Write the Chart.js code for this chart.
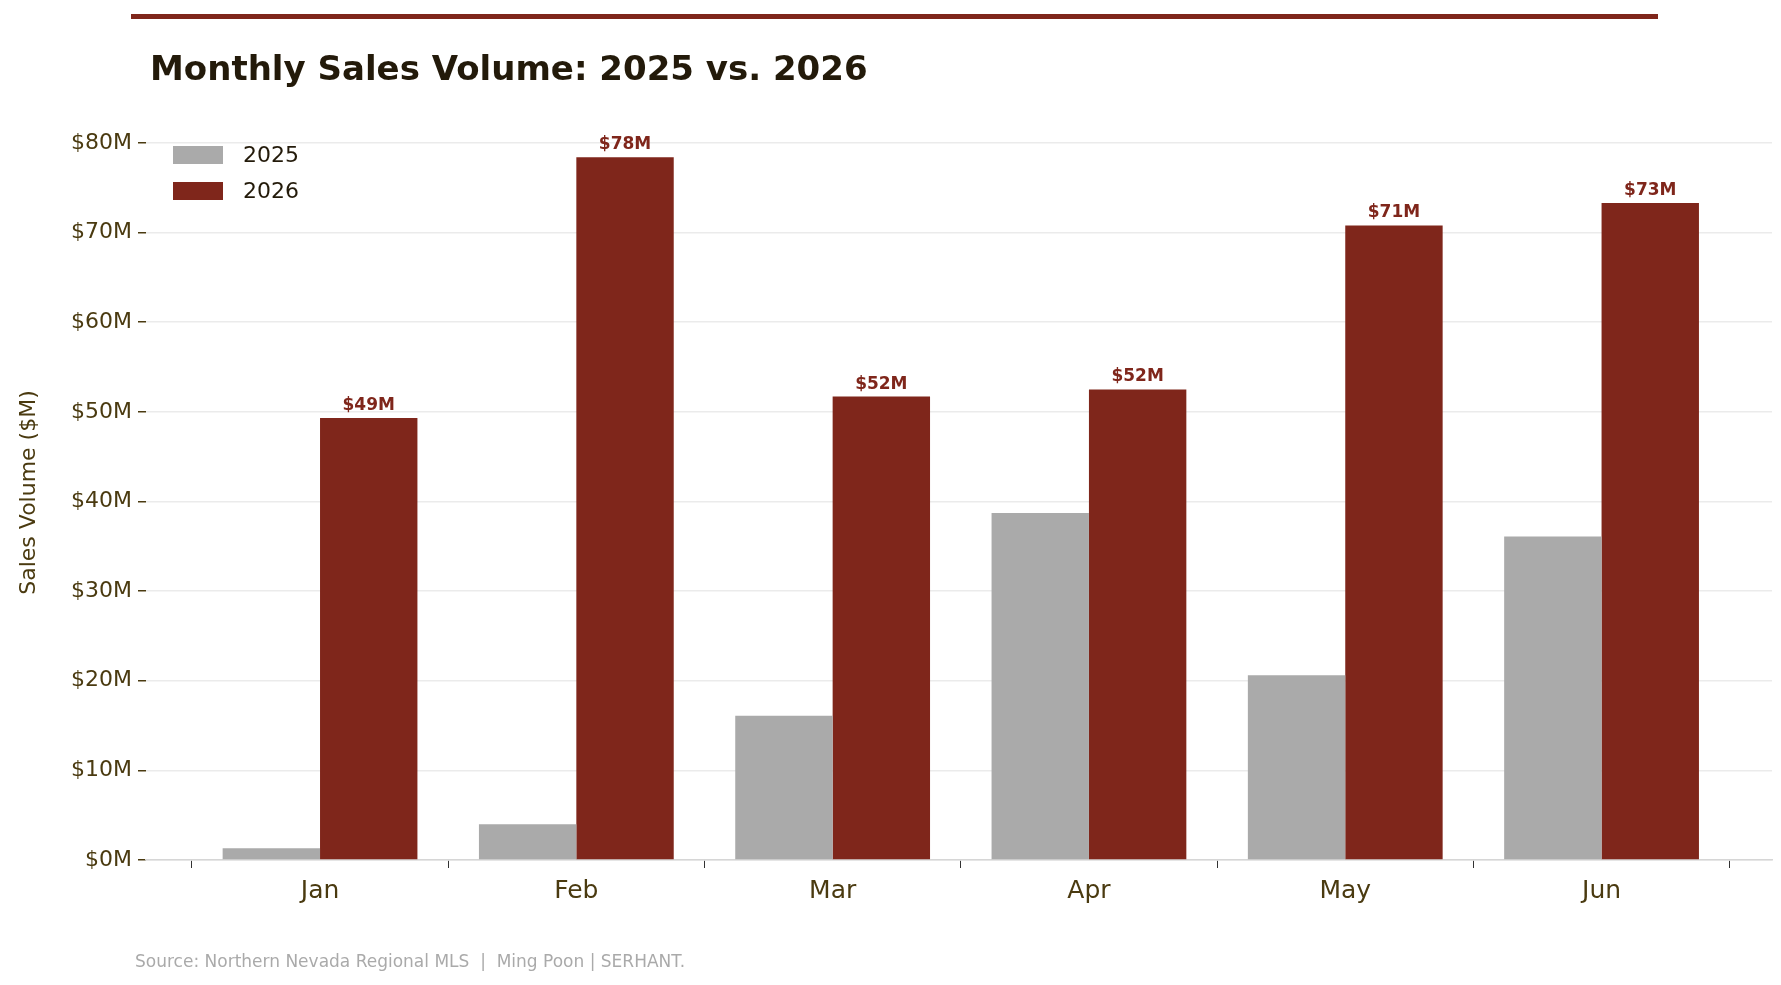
<!DOCTYPE html>
<html><head><meta charset="utf-8">
<script src="https://cdn.jsdelivr.net/npm/chart.js@4/dist/chart.umd.min.js"></script>
<style>html,body{margin:0;padding:0;background:#fff}#wrap{width:1781px;height:985px;position:relative}</style>
</head><body><div id="wrap"><canvas id="c" width="1781" height="985" style="width:1781px;height:985px"></canvas></div>
<script>
const months = ['Jan','Feb','Mar','Apr','May','Jun'];
const sales2025 = [1.3, 4.0, 16.1, 38.7, 20.6, 36.1];
const sales2026 = [49.3, 78.4, 51.7, 52.5, 70.8, 73.3];
const labels2026 = ['$49M','$78M','$52M','$52M','$71M','$73M'];
const yTicks = [0,10,20,30,40,50,60,70,80];

const GRAY='#aaaaaa', RED='#7f261b', TXT='#4a3a10', FONT='DejaVu Sans';

const deco = {
  id:'deco',
  afterDraw(chart){
    const ctx=chart.ctx;
    ctx.save();
    ctx.fillStyle=RED; ctx.fillRect(131,14,1527,5);
    ctx.fillStyle='#231a0a'; ctx.font='bold 34px '+FONT; ctx.textBaseline='middle'; ctx.textAlign='left';
    ctx.fillText('Monthly Sales Volume: 2025 vs. 2026',150,71);
    ctx.font='22px '+FONT;
    [[GRAY,'2025',155],[RED,'2026',191]].forEach(([c,t,y])=>{
      ctx.fillStyle=c; ctx.fillRect(173,y-9,50,18);
      ctx.fillStyle='#231a0a'; ctx.fillText(t,243,y+1);
    });
    const meta=chart.getDatasetMeta(1);
    ctx.font='bold 17px '+FONT; ctx.fillStyle=RED; ctx.textAlign='center'; ctx.textBaseline='bottom';
    meta.data.forEach((b,i)=>ctx.fillText(labels2026[i],b.x,b.y-4));
    ctx.save(); ctx.translate(29,(chart.chartArea.top+chart.chartArea.bottom)/2); ctx.rotate(-Math.PI/2);
    ctx.fillStyle=TXT; ctx.font='22px '+FONT; ctx.textBaseline='middle'; ctx.textAlign='center';
    ctx.fillText('Sales Volume ($M)',0,0); ctx.restore();
    ctx.fillStyle='#aaaaaa'; ctx.font='17px '+FONT; ctx.textAlign='left'; ctx.textBaseline='middle';
    ctx.fillText('Source: Northern Nevada Regional MLS  |  Ming Poon | SERHANT.',135,963);
    ctx.restore();
  }
};

new Chart(document.getElementById('c'),{
  type:'bar',
  data:{datasets:[
    {label:'2025',data:sales2025.map((v,i)=>({x:i,y:v})),backgroundColor:GRAY},
    {label:'2026',data:sales2026.map((v,i)=>({x:i,y:v})),backgroundColor:RED}
  ]},
  options:{
    responsive:false, animation:false, devicePixelRatio:1,
    layout:{padding:{left:0,right:9,top:125,bottom:0}},
    datasets:{bar:{categoryPercentage:0.76,barPercentage:1}},
    plugins:{legend:{display:false},tooltip:{enabled:false}},
    scales:{
      x:{type:'linear',min:-0.679,max:5.665,offset:false,
        afterBuildTicks(s){s.ticks=months.map((m,i)=>({value:i}));},
        afterFit(s){s.height=125;},
        ticks:{callback:(v)=>months[v]??'',color:TXT,font:{family:FONT,size:25},padding:8,maxRotation:0,autoSkip:false},
        grid:{color:'rgba(0,0,0,0)',tickColor:'#333',tickLength:8,drawOnChartArea:false},
        border:{color:'#d6d6d6',width:1.5}},
      y:{min:0,max:82,
        afterBuildTicks(s){s.ticks=yTicks.map(v=>({value:v}));},
        afterFit(s){s.width=146;},
        ticks:{callback:v=>'$'+v+'M',color:TXT,font:{family:FONT,size:22},padding:6},
        grid:{color:'#ebebeb',lineWidth:1.5,tickColor:'#4a3a10',tickLength:8},
        border:{display:false}}
    }
  },
  plugins:[deco]
});
</script>
</body></html>
